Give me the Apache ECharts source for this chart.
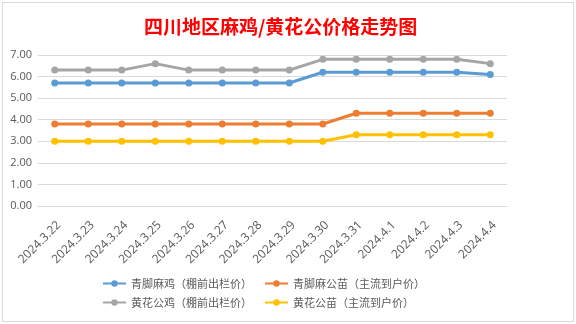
<!DOCTYPE html>
<html>
<head>
<meta charset="utf-8">
<script src="https://cdn.jsdelivr.net/npm/echarts@6/dist/echarts.min.js"></script>
<style>
html,body{margin:0;padding:0;background:#fff;}
#wrap{position:relative;width:576px;height:324px;overflow:hidden;background:#fff;}
#frame{position:absolute;left:2px;top:2px;width:570px;height:318px;border:1px solid #d9d9d9;box-sizing:content-box;}
#chart{position:absolute;left:0;top:0;width:576px;height:324px;}
</style>
</head>
<body>
<div id="wrap">
<div id="frame"></div>
<div id="chart"></div>
</div>
<script>
const categories = ["2024.3.22","2024.3.23","2024.3.24","2024.3.25","2024.3.26","2024.3.27","2024.3.28","2024.3.29","2024.3.30","2024.3.31","2024.4.1","2024.4.2","2024.4.3","2024.4.4"];
const seriesNames = ["青脚麻鸡（棚前出栏价）","青脚麻公苗（主流到户价）","黄花公鸡（棚前出栏价）","黄花公苗（主流到户价）"];
const qingjiaoJi   = [5.7,5.7,5.7,5.7,5.7,5.7,5.7,5.7,6.2,6.2,6.2,6.2,6.2,6.1];
const qingjiaoMiao = [3.8,3.8,3.8,3.8,3.8,3.8,3.8,3.8,3.8,4.3,4.3,4.3,4.3,4.3];
const huanghuaJi   = [6.3,6.3,6.3,6.6,6.3,6.3,6.3,6.3,6.8,6.8,6.8,6.8,6.8,6.6];
const huanghuaMiao = [3.0,3.0,3.0,3.0,3.0,3.0,3.0,3.0,3.0,3.3,3.3,3.3,3.3,3.3];
const colors = ["#5B9BD5","#ED7D31","#A5A5A5","#FFC000"];
const values = [qingjiaoJi, qingjiaoMiao, huanghuaJi, huanghuaMiao];

const chart = echarts.init(document.getElementById('chart'), null, {renderer:'canvas'});
const legendText = {color:'#595959', fontSize:11, fontFamily:'"Noto Sans CJK SC", sans-serif'};
chart.setOption({
  animation:false,
  backgroundColor:'transparent',
  title:{
    text:'四川地区麻鸡/黄花公价格走势图',
    left:139, top:12,
    textStyle:{color:'#FF0000', fontSize:19, fontWeight:'bold', fontFamily:'"Noto Sans CJK SC", sans-serif'}
  },
  legend:[
    {data:[seriesNames[0],seriesNames[1]], left:97, top:273, itemWidth:23, itemHeight:8, itemGap:12, textStyle:legendText},
    {data:[seriesNames[2],seriesNames[3]], left:97, top:292, itemWidth:23, itemHeight:8, itemGap:12, textStyle:legendText}
  ],
  grid:{left:38, right:69, top:55, bottom:118, containLabel:false},
  xAxis:{
    type:'category', data:categories, boundaryGap:true,
    axisLine:{show:true, lineStyle:{color:'#d9d9d9', width:1}},
    axisTick:{show:false},
    axisLabel:{rotate:45, interval:0, margin:13, verticalAlign:'top', color:'#595959', fontSize:12, fontFamily:'"Open Sans", "Liberation Sans", sans-serif'}
  },
  yAxis:{
    type:'value', min:0, max:7, interval:1,
    axisLine:{show:false}, axisTick:{show:false},
    splitLine:{lineStyle:{color:'#d9d9d9', width:1}},
    axisLabel:{formatter:v=>v.toFixed(2), color:'#595959', fontSize:11, margin:6, fontFamily:'"Open Sans", "Liberation Sans", sans-serif'}
  },
  series: values.map((d,i)=>({
    name:seriesNames[i], type:'line', data:d,
    symbol:'circle', symbolSize:7,
    lineStyle:{color:colors[i], width:3},
    itemStyle:{color:colors[i]},
    z: i===0?5:(i===2?4:3)
  }))
});
</script>
</body>
</html>
